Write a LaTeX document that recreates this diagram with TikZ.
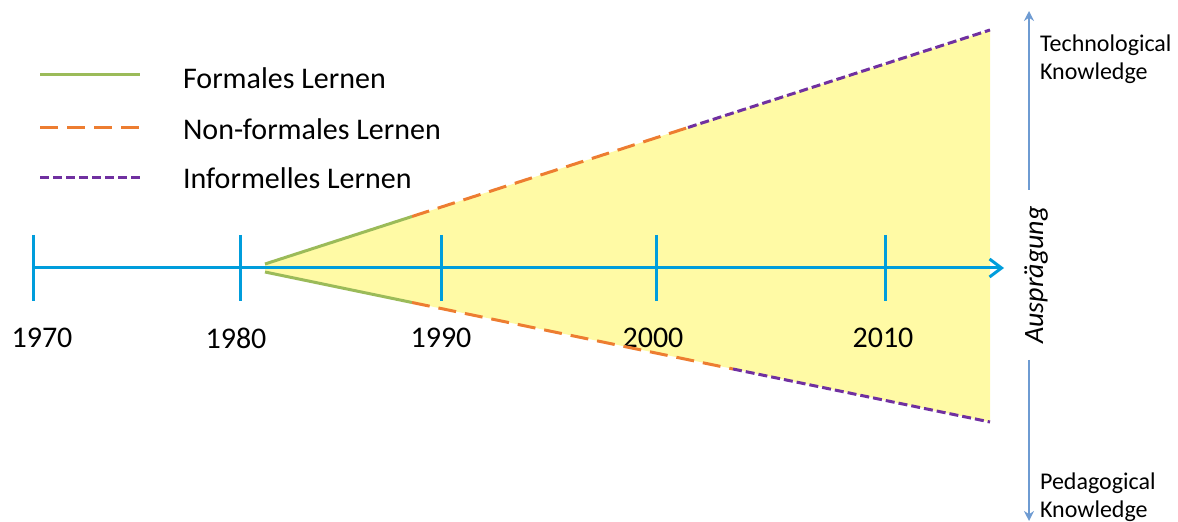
\documentclass[tikz,border=0pt]{standalone}
\usepackage{fontspec}
\setmainfont{Carlito}
\usepackage{tikz}
\usetikzlibrary{arrows.meta}

\definecolor{axisblue}{RGB}{0,157,220}
\definecolor{paleyellow}{RGB}{255,250,165}
\definecolor{formgreen}{RGB}{155,187,89}
\definecolor{nonorange}{RGB}{237,125,49}
\definecolor{infpurple}{RGB}{112,48,160}
\definecolor{knowblue}{RGB}{110,155,210}

\tikzset{
  formal/.style={formgreen, line width=1.5pt},
  nonformal/.style={nonorange, line width=1.5pt, dash pattern=on 9pt off 4.5pt},
  informal/.style={infpurple, line width=1.5pt, dash pattern=on 4.5pt off 2pt},
  tick/.style={axisblue, line width=1.5pt},
  year/.style={font=\fontsize{15}{18}\selectfont},
  legtext/.style={anchor=west, font=\fontsize{15}{18}\selectfont},
  know/.style={anchor=west, align=left, font=\fontsize{12}{14}\selectfont}
}

\begin{document}
\begin{tikzpicture}[x=0.5pt, y=-0.5pt]
  \useasboundingbox (0,0) rectangle (1178,522);

  % yellow cone
  \fill[paleyellow] (265,264) -- (990,30) -- (990,422) -- (265,272) -- cycle;

  % axis
  \coordinate (start) at (33,268);
  \coordinate (end) at (1004,268);
  \draw[axisblue, line width=1.5pt, -{Straight Barb[length=6pt,width=9pt]}] (start) -- (end);

  % ticks and years
  \foreach \x/\yr in {33/1970, 240/1980, 441/1990, 656/2000, 885/2010} {
    \coordinate (t\yr a) at (\x,235);
    \coordinate (t\yr b) at (\x,301);
    \draw[tick] (t\yr a) -- (t\yr b);
  }
  \node[year] (y1970) at (42,338) {1970};
  \node[year] (y1980) at (236,338) {1980};
  \node[year] (y1990) at (441,338) {1990};
  \node[year] (y2000) at (653,338) {2000};
  \node[year] (y2010) at (883,338) {2010};

  % upper edge
  \coordinate (apexu) at (265,264);
  \coordinate (gu) at (412,216.5);
  \coordinate (ou) at (688,127.5);
  \coordinate (pu) at (990,30);
  \draw[formal] (apexu) -- (gu);
  \draw[nonformal] (gu) -- (ou);
  \draw[informal] (ou) -- (pu);

  % lower edge
  \coordinate (apexl) at (265,272);
  \coordinate (gl) at (412,302.5);
  \coordinate (ol) at (733,369);
  \coordinate (pl) at (990,422);
  \draw[formal] (apexl) -- (gl);
  \draw[nonformal] (gl) -- (ol);
  \draw[informal] (ol) -- (pl);

  % legend
  \coordinate (l1a) at (40,75);  \coordinate (l1b) at (140,75);
  \coordinate (l2a) at (40,128); \coordinate (l2b) at (140,128);
  \coordinate (l3a) at (40,178); \coordinate (l3b) at (140,178);
  \draw[formal] (l1a) -- (l1b);
  \draw[nonformal] (l2a) -- (l2b);
  \draw[informal] (l3a) -- (l3b);
  \node[legtext] (leg1) at (176,78) {Formales Lernen};
  \node[legtext] (leg2) at (176,129) {Non-formales Lernen};
  \node[legtext] (leg3) at (176,178) {Informelles Lernen};

  % right hand scale
  \coordinate (upfrom) at (1029,190);
  \coordinate (upto) at (1029,11);
  \coordinate (downfrom) at (1029,360);
  \coordinate (downto) at (1029,521);
  \draw[knowblue, line width=0.9pt, -{Stealth[length=5pt,width=5pt]}] (upfrom) -- (upto);
  \draw[knowblue, line width=0.9pt, -{Stealth[length=5pt,width=5pt]}] (downfrom) -- (downto);
  \node[know] (tk) at (1033,59) {Technological\\Knowledge};
  \node[know] (pk) at (1033,497) {Pedagogical\\Knowledge};
  \node[rotate=90, font=\fontsize{14}{16}\selectfont\itshape] (ausp) at (1036,275) {Ausprägung};
\end{tikzpicture}
\end{document}
